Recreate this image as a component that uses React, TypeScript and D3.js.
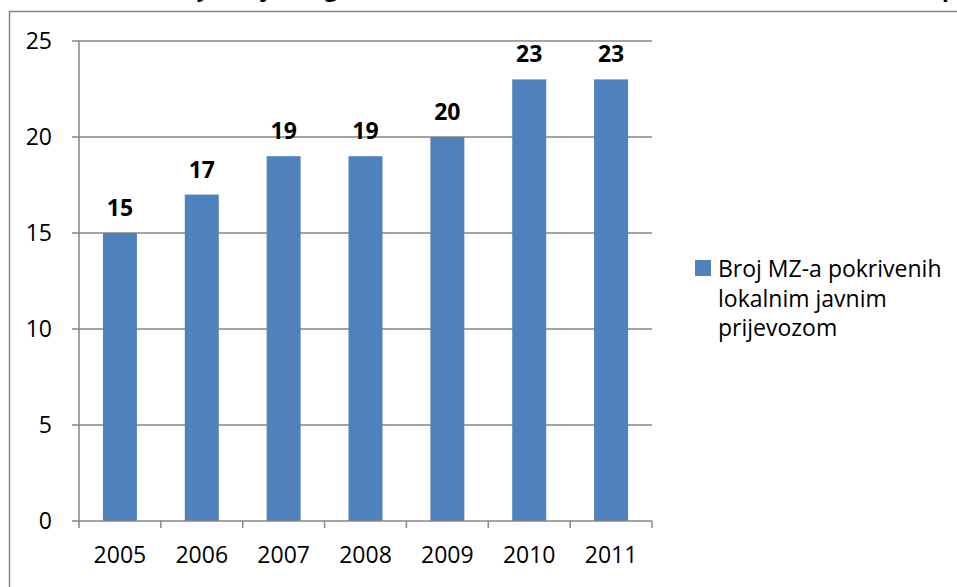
import * as d3 from "d3";

const years = ["2005", "2006", "2007", "2008", "2009", "2010", "2011"];
const counts = [15, 17, 19, 19, 20, 23, 23];
const yTicks = [0, 5, 10, 15, 20, 25];
const seriesName = ["Broj MZ-a pokrivenih", "lokalnim javnim", "prijevozom"];
// only the descenders of the chart title are visible at the top edge
const titleGlyphs = [
  { ch: "y", x: 203 },
  { ch: "j", x: 265 },
  { ch: "g", x: 331 },
  { ch: "p", x: 949 },
];

const W = 957;
const H = 587;
const margin = { left: 79, right: 652, top: 41, bottom: 521 };
const barColor = "#4F81BD";
const axisColor = "#868686";
const font = "'Open Sans', 'Liberation Sans', sans-serif";

export default function App() {
  const x = d3
    .scaleBand<string>()
    .domain(years)
    .range([margin.left, margin.right])
    .paddingInner(0.585)
    .paddingOuter(0.2925);
  const band = d3.scaleBand<string>().domain(years).range([margin.left, margin.right]);
  const y = d3.scaleLinear().domain([0, 25]).range([margin.bottom, margin.top]);

  return (
    <svg
      width={W}
      height={H}
      style={{ position: "absolute", left: 0, top: 0, background: "#fff" }}
      fontFamily={font}
    >
      {titleGlyphs.map((g) => (
        <text key={g.x} x={g.x} y={-3} fontSize={22} fontWeight="bold" textAnchor="middle" fill="#000">
          {g.ch}
        </text>
      ))}
      <rect x={9.5} y={11.5} width={W} height={H} fill="none" stroke={axisColor} strokeWidth={1.5} />

      {/* gridlines + y ticks */}
      {yTicks.map((t) => (
        <g key={t}>
          <line
            x1={margin.left - 7}
            x2={t === 0 ? margin.left : margin.right}
            y1={y(t)}
            y2={y(t)}
            stroke={axisColor}
            strokeWidth={1.5}
          />
          <text x={52} y={y(t)} dy="0.36em" fontSize={23} textAnchor="end" fill="#000">
            {t}
          </text>
        </g>
      ))}

      {counts.map((v, i) => (
        <g key={years[i]}>
          <rect
            x={x(years[i])}
            y={y(v)}
            width={x.bandwidth()}
            height={y(0) - y(v)}
            fill={barColor}
          />
          <text
            x={(x(years[i]) ?? 0) + x.bandwidth() / 2}
            y={y(v) - 17}
            fontSize={23}
            fontWeight="bold"
            textAnchor="middle"
            fill="#000"
          >
            {v}
          </text>
        </g>
      ))}

      {/* axes */}
      <line x1={margin.left} x2={margin.left} y1={margin.top} y2={margin.bottom} stroke={axisColor} strokeWidth={1.5} />
      <line x1={margin.left} x2={margin.right} y1={margin.bottom} y2={margin.bottom} stroke={axisColor} strokeWidth={1.5} />
      {[...years.map((d) => band(d) ?? 0), margin.right].map((px) => (
        <line key={px} x1={px} x2={px} y1={margin.bottom} y2={margin.bottom + 7} stroke={axisColor} strokeWidth={1.5} />
      ))}
      {years.map((d) => (
        <text
          key={d}
          x={(band(d) ?? 0) + band.bandwidth() / 2}
          y={563}
          fontSize={23}
          textAnchor="middle"
          fill="#000"
        >
          {d}
        </text>
      ))}

      {/* legend */}
      <rect x={695} y={260} width={16} height={16} fill={barColor} />
      {seriesName.map((line, i) => (
        <text key={line} x={718} y={277 + i * 29.5} fontSize={23} fill="#000">
          {line}
        </text>
      ))}
    </svg>
  );
}
